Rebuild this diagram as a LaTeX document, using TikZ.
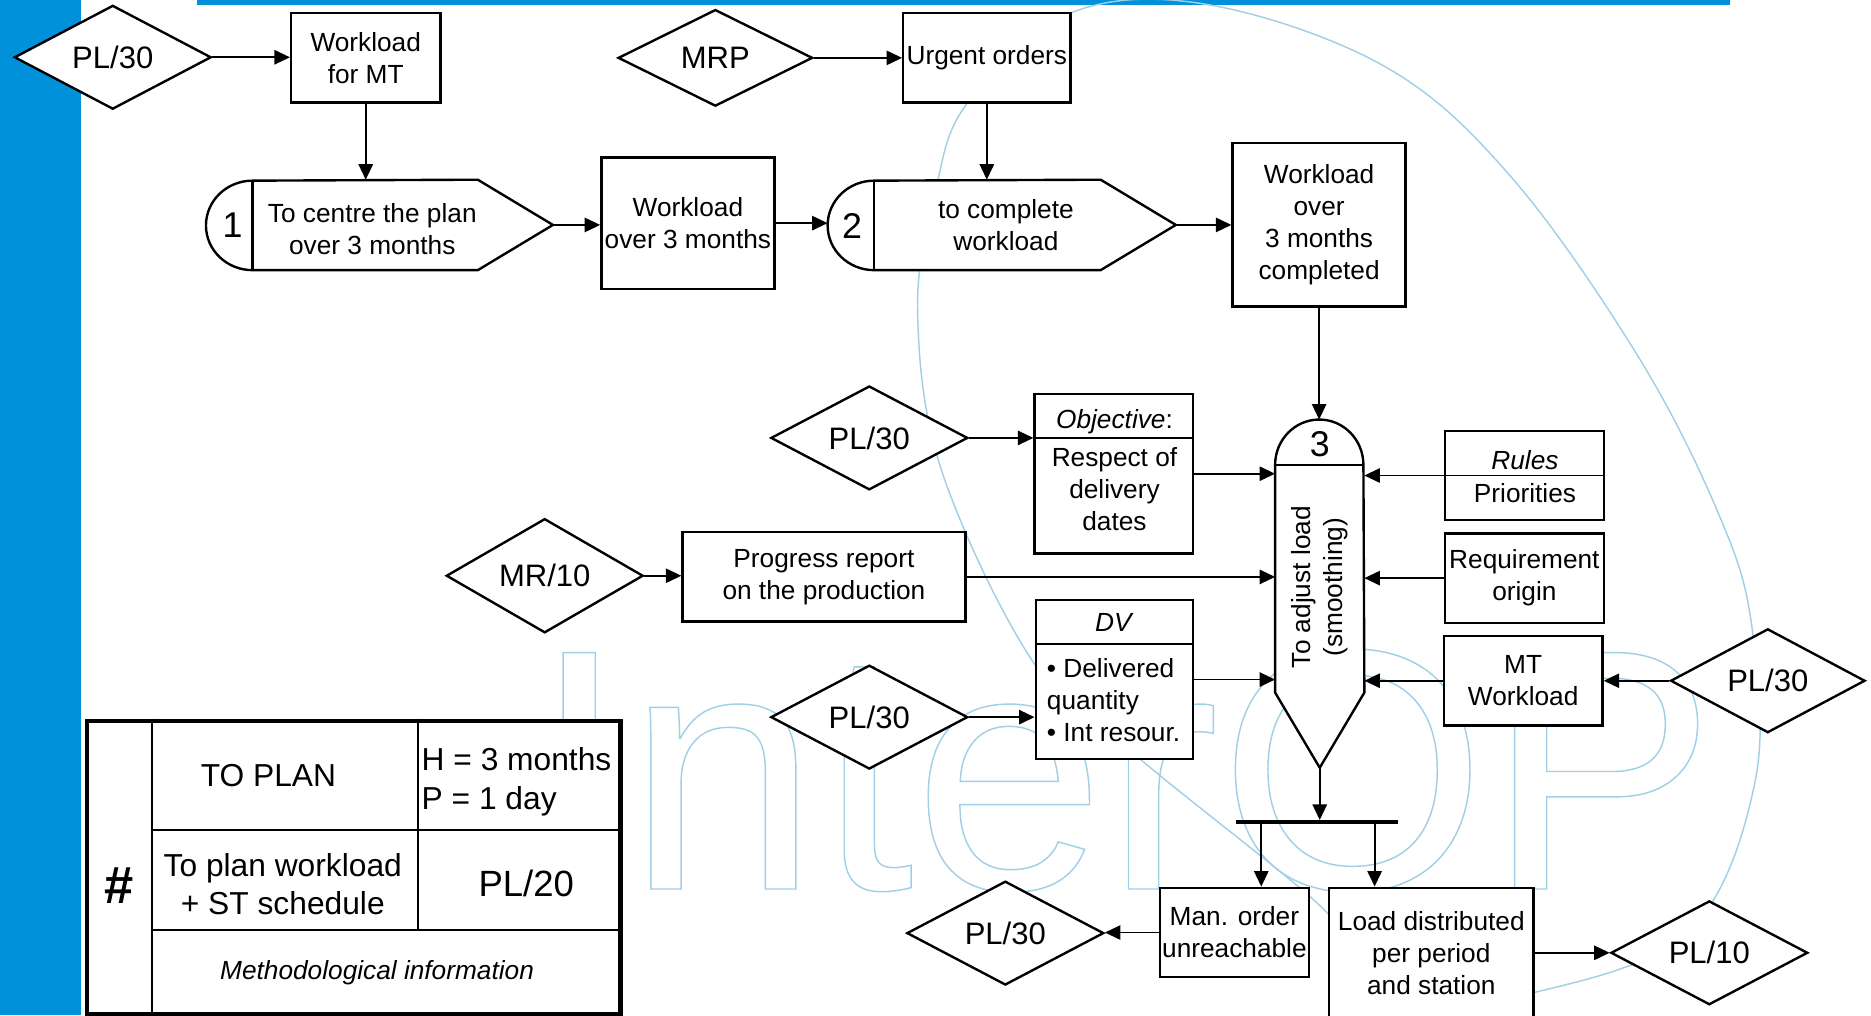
\documentclass[tikz,border=0pt]{standalone}
\usepackage{fontspec}
\setmainfont{Liberation Sans}
\usetikzlibrary{shapes.geometric,arrows.meta,calc}
\definecolor{barblue}{RGB}{0,145,218}
\definecolor{wmblue}{RGB}{160,207,230}
\newcommand\fsz[2]{\fontsize{#1}{#2}\selectfont}
% outlined (stroked) glyphs for the watermark
\newcommand\strokedtext[1]{\special{pdf:literal direct 1 Tr 0.6 w}#1\special{pdf:literal direct 0 Tr}}

\begin{document}
\begin{tikzpicture}[x=0.5pt,y=-0.5pt,
  box/.style={draw,line width=1pt,fill=white,inner sep=1pt,align=center,font=\fsz{11}{13.4}},
  dia/.style={diamond,draw,line width=1pt,fill=white,inner sep=0pt,minimum width=82.5pt,minimum height=40.5pt,font=\fsz{13}{15}},
  proc/.style={inner sep=0pt},
  procline/.style={draw,line width=1pt,fill=white},
  divider/.style={line width=0.8pt},
  arr/.style={-{Triangle[length=6.5pt,width=6pt]},line width=0.75pt},
  txt/.style={inner sep=0pt,align=center,font=\fsz{11}{13.4}},
  num/.style={inner sep=0pt,font=\fsz{15}{15}},
  ttxt/.style={inner sep=0pt,align=center,font=\fsz{13.3}{16.3}},
]
% page
\fill[white] (0,0) rectangle (1568,851);
\useasboundingbox (0,0) rectangle (1568,851);

% blue frame bars
\fill[barblue] (0,0) rectangle (68,851);
\fill[barblue] (165,0) rectangle (1450,4.5);

% watermark: swoosh and lettering
\draw[wmblue,line width=0.6pt] plot[smooth cycle,tension=0.6] coordinates {
  (1013,4) (1161,56) (1267,149) (1373,299) (1440,430) (1468,524) (1471,654)
  (1417,779) (1293,830) (1190,835) (1094,748) (960,640) (870,561) (790,397)
  (769,262) (784,160) (811,86) (897,11)};
\node[anchor=base west,inner sep=0pt,text=wmblue,font=\fsz{144}{144}] (wmark) at (445,745) {\strokedtext{InterOP}};

% ---------- top row ----------
\node[dia] (d1) at (94.5,48) {PL/30};
\node[box,minimum width=62.5pt,minimum height=37.5pt] (wmt) at (306.5,48.5) {Workload\\for MT};

\node[proc,minimum width=145pt,minimum height=37.5pt] (p1) at (318,188.5) {};
\draw[procline] ($(p1.south west)+(39,0)$) arc[start angle=270,end angle=90,x radius=19.5pt,y radius=18.75pt]
  -- ($(p1.north east)+(-63,0)$) -- (p1.east) -- ($(p1.south east)+(-63,0)$) -- cycle;
\draw[line width=1pt] ($(p1.north west)+(39,0)$) -- ($(p1.south west)+(39,0)$);
\node[num] (p1n) at (195,189) {1};
\node[txt] (p1t) at (312,192) {To centre the plan\\over 3 months};

\node[box,minimum width=72.5pt,minimum height=55pt] (w3m) at (576.5,187) {Workload\\over 3 months};

\node[dia,minimum width=81.5pt] (mrp) at (599.5,48.5) {MRP};
\node[box,minimum width=70pt,minimum height=37.5pt] (urg) at (827,48.5) {Urgent orders};

\node[proc,minimum width=145.5pt,minimum height=37.5pt] (p2) at (839.5,188.5) {};
\draw[procline] ($(p2.south west)+(39,0)$) arc[start angle=270,end angle=90,x radius=19.5pt,y radius=18.75pt]
  -- ($(p2.north east)+(-63,0)$) -- (p2.east) -- ($(p2.south east)+(-63,0)$) -- cycle;
\draw[line width=1pt] ($(p2.north west)+(39,0)$) -- ($(p2.south west)+(39,0)$);
\node[num] (p2n) at (714,189) {2};
\node[txt] (p2t) at (843,189) {to complete\\workload};

\node[box,minimum width=72.5pt,minimum height=68.5pt] (wc) at (1105.5,188.5) {Workload\\over\\3 months\\completed};

% ---------- adjusting step ----------
\node[proc,minimum width=37pt,minimum height=145.5pt] (p3) at (1106,497.5) {};
\draw[procline] ($(p3.north west)+(0,38)$) arc[start angle=180,end angle=0,x radius=18.5pt,y radius=19pt]
  -- ($(p3.south east)+(0,-63)$) -- (p3.south) -- ($(p3.south west)+(0,-63)$) -- cycle;
\draw[line width=1pt] ($(p3.north west)+(0,38)$) -- ($(p3.north east)+(0,38)$);
\node[num] (p3n) at (1106,372) {3};
\node[txt,rotate=90] (p3t) at (1106,492) {To adjust load\\(smoothing)};

\node[dia] (dobj) at (728.5,367) {PL/30};
\node[box,minimum width=66.5pt,minimum height=67pt] (obj) at (933.5,397) {};
\draw[divider] ($(obj.north west)+(0,38)$) -- ($(obj.north east)+(0,38)$);
\node[txt] (objh) at (934,353) {\textit{Objective}:};
\node[txt] (objb) at (934,410) {Respect of\\delivery\\dates};

\node[dia] (mr10) at (456.5,482.5) {MR/10};
\node[box,minimum width=118.5pt,minimum height=37.5pt] (prog) at (690.5,483.5) {Progress report\\on the production};

\node[dia] (ddv) at (728.5,601) {PL/30};
\node[box,minimum width=66pt,minimum height=66.5pt] (dv) at (934,569.5) {};
\draw[divider] ($(dv.north west)+(0,38)$) -- ($(dv.north east)+(0,38)$);
\node[txt] (dvh) at (934,522) {\textit{DV}};
\node[txt,align=left,anchor=west] (dvb) at (877,587) {• Delivered\\quantity\\• Int resour.};

\node[box,minimum width=66.5pt,minimum height=37.5pt] (rules) at (1277.5,398.5) {};
\draw[divider] (rules.west) -- (rules.east);
\node[txt] (rulesh) at (1278,386) {\textit{Rules}};
\node[txt] (rulesb) at (1278,413) {Priorities};
\node[box,minimum width=66.5pt,minimum height=37.5pt] (req) at (1277.5,484.5) {Requirement\\origin};
\node[box,minimum width=66.5pt,minimum height=37.5pt] (mtw) at (1276.5,570.5) {MT\\Workload};
\node[dia,minimum width=81.5pt] (dr) at (1481.5,570.5) {PL/30};

% ---------- outputs ----------
\node[fill=black,inner sep=0pt,minimum width=68pt,minimum height=1.4pt] (bar) at (1104,689) {};
\node[box,minimum width=62.5pt,minimum height=37.5pt] (man) at (1034.5,781.5) {Man. order\\unreachable};
\node[dia] (dman) at (842.5,782) {PL/30};
\node[box,minimum width=85.5pt,minimum height=55pt] (load) at (1199.5,799) {Load distributed\\per period\\and station};
\node[dia] (pl10) at (1432.5,798.5) {PL/10};

% ---------- connectors ----------
\draw[arr] (d1.east) -- (d1.east -| wmt.west);
\draw[arr] (wmt.south) -- (wmt.south |- p1.north);
\draw[arr] (p1.east) -- (p1.east -| w3m.west);
\draw[arr] (w3m.east) -- (w3m.east -| p2.west);
\draw[arr] (mrp.east) -- (mrp.east -| urg.west);
\draw[arr] (urg.south) -- (urg.south |- p2.north);
\draw[arr] (p2.east) -- (p2.east -| wc.west);
\draw[arr] (wc.south) -- (wc.south |- p3.north);
\draw[arr] (dobj.east) -- (dobj.east -| obj.west);
\draw[arr] (obj.east) -- (obj.east -| p3.west);
\draw[arr] (mr10.east) -- (mr10.east -| prog.west);
\draw[arr] (prog.east) -- (prog.east -| p3.west);
\draw[arr] (ddv.east) -- (ddv.east -| dv.west);
\draw[arr] (dv.east) -- (dv.east -| p3.west);
\draw[arr] (rules.west) -- (rules.west -| p3.east);
\draw[arr] (req.west) -- (req.west -| p3.east);
\draw[arr] (mtw.west) -- (mtw.west -| p3.east);
\draw[arr] (dr.west) -- (dr.west -| mtw.east);
\draw[arr] (p3.south) -- (p3.south |- bar.north);
\coordinate (b1) at (1057,0);
\coordinate (b2) at (1152,0);
\draw[arr] (bar.south -| b1) -- (man.north -| b1);
\draw[arr] (bar.south -| b2) -- (load.north -| b2);
\draw[arr] (man.west) -- (man.west -| dman.east);
\draw[arr] (pl10.west -| load.east) -- (pl10.west);

% ---------- legend table ----------
\node[draw,line width=1.8pt,fill=white,inner sep=0pt,minimum width=223.5pt,minimum height=123pt] (tbl) at (296.5,727) {};
\draw[divider] ($(tbl.north west)+(56,0)$) -- ($(tbl.south west)+(56,0)$);
\draw[divider] ($(tbl.north west)+(56,93)$) -- ($(tbl.north east)+(0,93)$);
\draw[divider] ($(tbl.north west)+(279,0)$) -- ($(tbl.north west)+(279,177)$);
\draw[divider] ($(tbl.north west)+(56,177)$) -- ($(tbl.north east)+(0,177)$);
\node[inner sep=0pt,font=\fsz{22}{22}\bfseries] (hash) at (100,742) {\#};
\node[ttxt] (tplan) at (225,650) {TO PLAN};
\node[ttxt,align=left,anchor=west] (thp) at (353,655) {H = 3 months\\P = 1 day};
\node[ttxt] (tdesc) at (237,741) {To plan workload\\+ ST schedule};
\node[inner sep=0pt,font=\fsz{15.3}{18}] (tcode) at (441,740) {PL/20};
\node[inner sep=0pt,font=\fsz{11}{13}\itshape] (tmeth) at (316,815) {Methodological information};
\end{tikzpicture}
\end{document}
